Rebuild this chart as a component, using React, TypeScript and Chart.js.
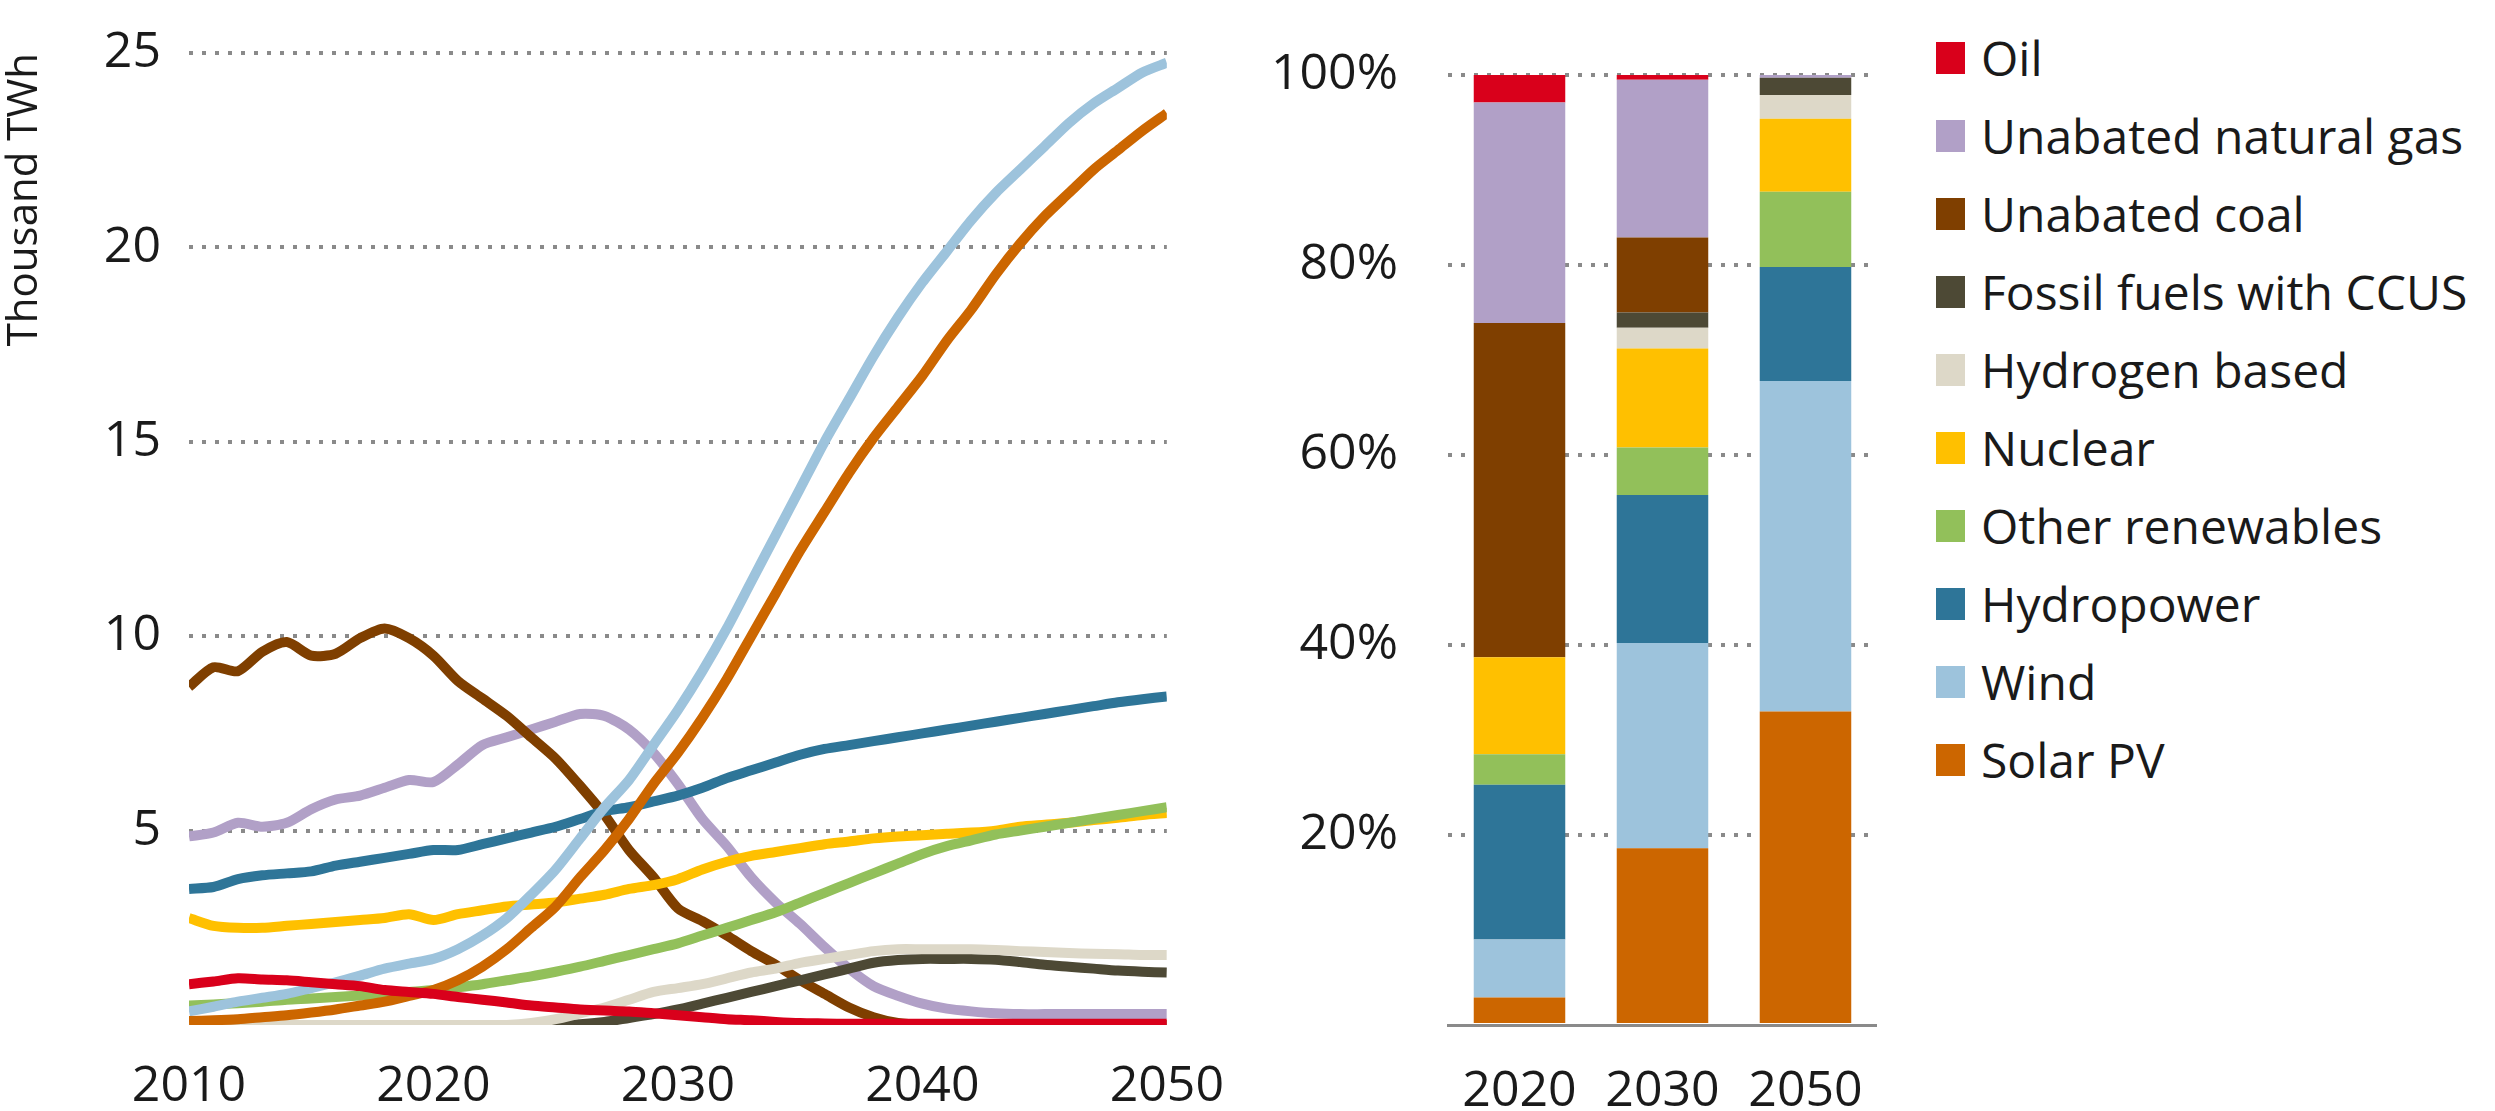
import React, { useEffect, useRef } from "react";
import { Chart, registerables } from "chart.js";
Chart.register(...registerables);

const years = Array.from({ length: 41 }, (_, i) => 2010 + i);

const solarPV = [0.1,0.12,0.15,0.2,0.25,0.32,0.4,0.5,0.6,0.75, 0.9,1.15,1.5,1.95,2.5,3.05,3.8,4.5,5.3,6.2, 7.0,7.9,8.9,10.0,11.1,12.2,13.2,14.2,15.1,15.9, 16.7,17.6,18.4,19.3,20.1,20.8,21.4,22.0,22.5,23.0,23.45];
const wind = [0.35,0.47,0.6,0.7,0.8,0.95,1.1,1.27,1.45,1.58, 1.7,1.95,2.3,2.75,3.35,4.0,4.8,5.6,6.3,7.2, 8.1,9.1,10.2,11.4,12.6,13.8,15.0,16.1,17.2,18.2, 19.1,19.9,20.7,21.4,22.0,22.6,23.2,23.7,24.1,24.5,24.75];
const hydropower = [3.5,3.55,3.75,3.85,3.9,3.95,4.1,4.2,4.3,4.4, 4.5,4.5,4.65,4.8,4.95,5.1,5.3,5.5,5.6,5.75, 5.9,6.1,6.35,6.55,6.75,6.95,7.1,7.2,7.3,7.4, 7.5,7.6,7.7,7.8,7.9,8.0,8.1,8.2,8.3,8.38,8.45];
const otherRenewables = [0.5,0.53,0.56,0.6,0.65,0.68,0.72,0.76,0.8,0.85, 0.9,0.97,1.05,1.15,1.25,1.37,1.5,1.65,1.8,1.95, 2.1,2.3,2.5,2.7,2.9,3.15,3.4,3.65,3.9,4.15, 4.4,4.6,4.75,4.9,5.0,5.1,5.2,5.3,5.4,5.5,5.6];
const nuclear = [2.75,2.55,2.5,2.5,2.55,2.6,2.65,2.7,2.75,2.85, 2.7,2.85,2.95,3.05,3.1,3.15,3.25,3.35,3.5,3.6, 3.75,4.0,4.2,4.35,4.45,4.55,4.65,4.72,4.8,4.85, 4.88,4.92,4.95,5.0,5.1,5.15,5.2,5.27,5.33,5.4,5.45];
const hydrogen = [0,0,0,0,0,0,0,0,0,0, 0,0,0,0,0.05,0.15,0.3,0.45,0.65,0.85, 0.95,1.05,1.2,1.35,1.45,1.6,1.7,1.8,1.9,1.95, 1.95,1.95,1.95,1.93,1.9,1.88,1.85,1.83,1.82,1.8,1.8];
const ccus = [0,0,0,0,0,0,0,0,0,0, 0,0,0,0,0,0,0.02,0.08,0.18,0.28, 0.4,0.55,0.7,0.85,1.0,1.15,1.3,1.45,1.6,1.67, 1.7,1.7,1.7,1.68,1.62,1.55,1.5,1.45,1.4,1.37,1.35];
const coal = [8.7,9.2,9.1,9.6,9.85,9.5,9.55,9.95,10.2,9.95, 9.5,8.85,8.4,7.95,7.4,6.85,6.15,5.4,4.5,3.8, 3.0,2.67,2.3,1.9,1.55,1.15,0.8,0.45,0.2,0.05, 0,0,0,0,0,0,0,0,0,0,0];
const gas = [4.85,4.95,5.2,5.1,5.2,5.55,5.8,5.9,6.1,6.3, 6.25,6.7,7.2,7.4,7.6,7.8,8.0,7.95,7.6,7.0, 6.2,5.3,4.6,3.8,3.15,2.6,2.0,1.45,1.0,0.75, 0.55,0.42,0.35,0.3,0.28,0.28,0.28,0.28,0.28,0.28,0.28];
const oil = [1.05,1.12,1.2,1.17,1.15,1.1,1.05,1.0,0.9,0.85, 0.8,0.72,0.65,0.58,0.5,0.45,0.4,0.37,0.35,0.3, 0.25,0.2,0.15,0.12,0.08,0.05,0.04,0.03,0.03,0.03, 0.03,0.03,0.03,0.03,0.03,0.03,0.03,0.03,0.03,0.03,0.03];

const barYears = ["2020", "2030", "2050"];
// shares in %, order: bottom to top
const shareSolar = [2.9, 18.6, 33.0];
const shareWind = [6.1, 21.6, 34.8];
const shareHydro = [16.3, 15.6, 12.0];
const shareOther = [3.2, 5.0, 7.9];
const shareNuclear = [10.2, 10.4, 7.7];
const shareHydrogen = [0, 2.2, 2.5];
const shareCcus = [0, 1.6, 1.8];
const shareCoal = [35.2, 7.9, 0];
const shareGas = [23.2, 16.6, 0.3];
const shareOil = [2.9, 0.5, 0];

const sources = ["Solar PV", "Wind", "Hydropower", "Other renewables", "Nuclear", "Hydrogen based", "Fossil fuels with CCUS", "Unabated coal", "Unabated natural gas", "Oil"];
const colors = ["#cc6600", "#9dc3dc", "#2e7598", "#92c05a", "#ffc000", "#ddd8c8", "#4d4935", "#7f3f00", "#b1a0c7", "#d9001b"];
const lineSeries = [solarPV, wind, hydropower, otherRenewables, nuclear, hydrogen, ccus, coal, gas, oil];
const shareSeries = [shareSolar, shareWind, shareHydro, shareOther, shareNuclear, shareHydrogen, shareCcus, shareCoal, shareGas, shareOil];

const FONT = "'Open Sans', 'DejaVu Sans', sans-serif";
const TEXT = "#1a1a1a";
const GRID = "#8a8a8a";
const TICK_FONT = { family: FONT, size: 50, lineHeight: 1 };

export default function App() {
  const lineRef = useRef<HTMLCanvasElement>(null);
  const barRef = useRef<HTMLCanvasElement>(null);

  useEffect(() => {
    const lc = new Chart(lineRef.current!, {
      type: "line",
      data: {
        datasets: lineSeries.map((s, i) => ({
          label: sources[i],
          data: s.map((v, j) => ({ x: years[j], y: v })),
          borderColor: colors[i],
          borderWidth: 10,
          pointRadius: 0,
          tension: 0.25,
          fill: false,
          order: i === 9 ? -1 : i,
        })),
      },
      options: {
        animation: false,
        responsive: false,
        devicePixelRatio: 1,
        layout: { padding: { top: 0, right: 0, left: 0, bottom: 0 } },
        plugins: { legend: { display: false }, tooltip: { enabled: false } },
        scales: {
          x: {
            type: "linear",
            min: 2010,
            max: 2050,
            ticks: { stepSize: 10, color: TEXT, font: TICK_FONT, padding: 29, callback: (v: any) => String(v) },
            grid: { display: false },
            border: { display: false },
            afterFit: (s: any) => { s.height = 86; },
          },
          y: {
            min: 0,
            max: 25,
            ticks: { stepSize: 5, color: TEXT, font: TICK_FONT, padding: 28, callback: (v: any) => (v === 0 ? "" : String(v)) },
            grid: { color: (c: any) => (c.tick && c.tick.value === 0 ? "rgba(0,0,0,0)" : GRID), lineWidth: 4, drawTicks: false } as any,
            border: { display: false, dash: [4, 9] },
            title: { display: true, text: "Thousand TWh", color: TEXT, font: { family: FONT, size: 42 }, align: "end", padding: 0 },
            afterFit: (s: any) => { s.width = 189; },
          },
        },
      },
    });

    const bc = new Chart(barRef.current!, {
      type: "bar",
      data: {
        labels: barYears,
        datasets: shareSeries.map((s, i) => ({
          label: sources[i],
          data: s,
          backgroundColor: colors[i],
          borderWidth: 0,
          barPercentage: 0.64,
          categoryPercentage: 1,
        })),
      },
      options: {
        animation: false,
        responsive: false,
        devicePixelRatio: 1,
        layout: { padding: { top: 2, right: 20, left: 0, bottom: 0 } },
        plugins: { legend: { display: false }, tooltip: { enabled: false } },
        scales: {
          x: {
            stacked: true,
            ticks: { color: TEXT, font: TICK_FONT, padding: 34 },
            grid: { display: false },
            border: { display: true, color: GRID, width: 3 },
            afterFit: (s: any) => { s.height = 86; },
          },
          y: {
            stacked: true,
            min: 0,
            max: 100,
            ticks: { stepSize: 20, color: TEXT, font: TICK_FONT, padding: 50, callback: (v: any) => (v === 0 ? "" : v + "%") },
            grid: { color: (c: any) => (c.tick && c.tick.value === 0 ? "rgba(0,0,0,0)" : GRID), lineWidth: 4, drawTicks: false } as any,
            border: { display: false, dash: [4, 9] },
            afterFit: (s: any) => { s.width = 208; },
          },
        },
      },
    });

    return () => { lc.destroy(); bc.destroy(); };
  }, []);

  const legendOrder = [9, 8, 7, 6, 5, 4, 3, 2, 1, 0];

  return (
    <div style={{ position: "absolute", left: 0, top: 0, width: 2495, height: 1111, background: "#fff", fontFamily: FONT }}>
      <canvas ref={lineRef} width={1253} height={1111} style={{ position: "absolute", left: 0, top: 0 }} />
      <canvas ref={barRef} width={660} height={1111} style={{ position: "absolute", left: 1240, top: 0 }} />
      {legendOrder.map((idx, k) => (
        <div key={idx} style={{ position: "absolute", left: 1936, top: 58 + k * 78 - 30, height: 60, display: "flex", alignItems: "center", whiteSpace: "nowrap" }}>
          <div style={{ width: 29, height: 32, background: colors[idx], marginRight: 16 }} />
          <span style={{ fontSize: 48, color: TEXT, lineHeight: "60px" }}>{sources[idx]}</span>
        </div>
      ))}
    </div>
  );
}
